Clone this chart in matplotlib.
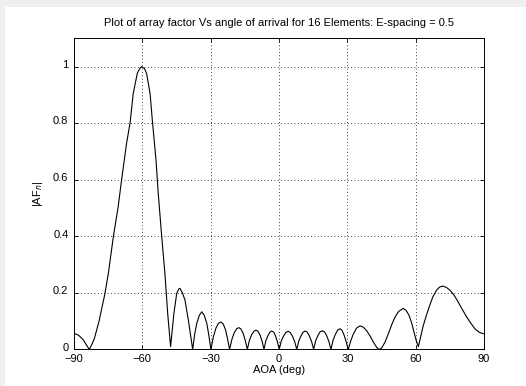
import matplotlib
matplotlib.use("Agg")
import matplotlib.pyplot as plt
import matplotlib.patches as mpatches
import matplotlib.transforms as mtransforms

# Angle of arrival (deg) and |AF_n|
aoa = [-90, -88, -86, -84.5, -83.3, -82, -81, -79, -76.4, -74.9, -72.7, -70.6,
       -69.1, -66.9, -65.4, -64, -62.2, -61, -60.3, -59, -58.1, -56.6, -55.5,
       -54, -53, -51.5, -50.1, -48.9, -47.6, -46.1, -44.9, -44.0, -43.5, -42.4,
       -41.3, -39.8, -38.8, -37.9, -37.0, -36.1, -35.0, -33.9, -32.8, -31.7,
       -30.8, -29.9,
       -28.8, -27.7, -26.6, -25.5, -24.5, -23.5, -22.6, -21.7,
       -20.7, -19.7, -18.6, -17.6, -16.7, -15.7, -14.8, -13.9,
       -13.0, -12.0, -11.0, -10.1, -9.2, -8.3, -7.4, -6.6,
       -5.8, -4.9, -4.0, -3.2, -2.3, -1.5, -0.7, 0.1,
       1.0, 2.0, 3.0, 4.0, 4.9, 5.9, 6.9, 7.8,
       8.7, 9.6, 10.5, 11.4, 12.4, 13.3, 14.3, 15.2,
       16.1, 17.1, 18.0, 19.0, 20.0, 20.9, 21.9, 22.8,
       23.8, 24.8, 25.8, 26.8, 27.7, 28.6, 29.5, 30.4,
       31.5, 32.5, 34.0, 35.5, 37.0, 38.5, 40.0, 41.5, 43.0, 44.0,
       45.0, 46.5, 48.0, 49.5, 51.0, 52.5, 54.5, 55.8, 57.0, 58.2, 59.3, 60.3,
       61.2, 62.2, 63.2, 64.5, 66.0, 67.5, 69.2, 70.6, 72.0, 73.5, 75.0, 77.0,
       78.5, 80.0, 82.0, 84.0, 86.0, 88.0, 90.0]
af = [0.057, 0.050, 0.035, 0.015, 0.0, 0.020, 0.040, 0.100, 0.198, 0.270, 0.400,
      0.505, 0.600, 0.730, 0.800, 0.905, 0.977, 0.995, 1.0, 0.993, 0.975, 0.905,
      0.800, 0.670, 0.550, 0.400, 0.270, 0.130, 0.010, 0.130, 0.198, 0.214,
      0.216, 0.200, 0.175, 0.104, 0.050, 0.0, 0.055, 0.092, 0.120, 0.133, 0.120,
      0.092, 0.050, 0.0,
      0.045, 0.075, 0.092, 0.097, 0.090, 0.070, 0.038, 0.0,
      0.035, 0.058, 0.073, 0.077, 0.072, 0.056, 0.031, 0.0,
      0.032, 0.052, 0.064, 0.068, 0.064, 0.050, 0.028, 0.0,
      0.030, 0.048, 0.061, 0.065, 0.061, 0.047, 0.027, 0.0,
      0.030, 0.047, 0.060, 0.064, 0.060, 0.047, 0.027, 0.0,
      0.030, 0.047, 0.060, 0.065, 0.061, 0.048, 0.028, 0.0,
      0.031, 0.049, 0.062, 0.066, 0.062, 0.049, 0.028, 0.0,
      0.034, 0.054, 0.069, 0.073, 0.067, 0.050, 0.027, 0.0,
      0.030, 0.052, 0.075, 0.083, 0.079, 0.066, 0.047, 0.025, 0.006, 0.0,
      0.004, 0.025, 0.055, 0.088, 0.115, 0.134, 0.145, 0.138, 0.122, 0.095,
      0.060, 0.030,
      0.010, 0.045, 0.080, 0.115, 0.152, 0.185, 0.210, 0.221, 0.224, 0.219,
      0.210, 0.190, 0.170, 0.148, 0.120, 0.095, 0.073, 0.060, 0.055]

xticks = [-90, -60, -30, 0, 30, 60, 90]
yticks = [0, 0.2, 0.4, 0.6, 0.8, 1.0]
yticklabels = ["0", "0.2", "0.4", "0.6", "0.8", "1"]

plt.rcParams['font.family'] = ['Liberation Sans', 'DejaVu Sans']
plt.rcParams['font.size'] = 8

fig = plt.figure(figsize=(5.26, 3.86), dpi=100)
fig.patch.set_facecolor('white')
# light grey frame along top and left edges
fig.patches.append(mpatches.Rectangle((0, 1 - 7/386), 1, 7/386, transform=fig.transFigure,
                                      facecolor='#efefef', edgecolor='none', zorder=0))
fig.patches.append(mpatches.Rectangle((0, 0), 5/526, 1, transform=fig.transFigure,
                                      facecolor='#efefef', edgecolor='none', zorder=0))

ax = fig.add_axes([74/526, 36.6/386, 410/526, 311/386])
ax.plot(aoa, af, color='black', lw=0.8)
ax.set_xlim(-90, 90)
ax.set_ylim(0, 1.1)
ax.set_xticks(xticks)
ax.set_yticks(yticks)
ax.set_yticklabels(yticklabels)
ax.grid(True, color='black', linestyle=(0, (1, 3)), linewidth=0.6)
ax.tick_params(direction='in', top=True, right=True, length=3, width=0.6,
               labelsize=8)
ax.tick_params(axis='x', pad=3)
ax.tick_params(axis='y', pad=4)
for s in ax.spines.values():
    s.set_linewidth(0.7)

# nudge the y tick labels slightly upward so "0" clears "-90"
offset = mtransforms.ScaledTranslation(0, 2/72, fig.dpi_scale_trans)
for lab in ax.get_yticklabels():
    lab.set_transform(lab.get_transform() + offset)

ax.set_xlabel('AOA (deg)', fontsize=8, labelpad=1)
ax.set_ylabel('|AF$_n$|', fontsize=8, labelpad=6)
ax.set_title('Plot of array factor Vs angle of arrival for 16 Elements: E-spacing = 0.5',
             fontsize=8, pad=9)

fig.savefig('out.png', dpi=100)
